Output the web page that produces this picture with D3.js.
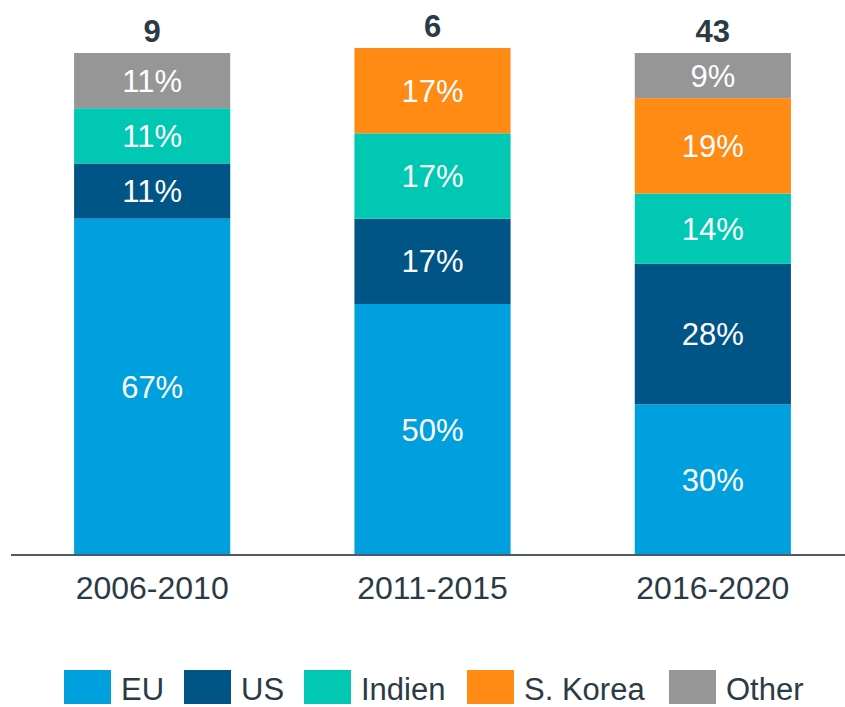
<!DOCTYPE html>
<head>
<meta charset="utf-8">
<script src="https://d3js.org/d3.v7.min.js"></script>
<style>
body { margin:0; background:#fff; }
text { font-family: "Liberation Sans", Arial, sans-serif; }
</style>
</head>
<body>
<script>

var periods = ["2006-2010", "2011-2015", "2016-2020"];
var totals = [9, 6, 43];
var series = ["EU", "US", "Indien", "S. Korea", "Other"];
var eu = [67, 50, 30];
var us = [11, 17, 28];
var indien = [11, 17, 14];
var korea = [0, 17, 19];
var other = [11, 0, 9];
var colors = ["#00a0df", "#005587", "#00c8b3", "#ff8a14", "#969696"];

var width = 845,
  height = 707;

var rows = periods.map(function(p, i) {
  return { period: p, "EU": eu[i], "US": us[i], "Indien": indien[i], "S. Korea": korea[i], "Other": other[i] };
});

var stacked = d3.stack().keys(series)(rows);

var svg = d3.select("body").append("svg")
    .attr("width", width)
    .attr("height", height);

var x = d3.scaleBand()
    .domain(periods)
    .range([12, 853])
    .paddingInner(0.443)
    .paddingOuter(0.2215);

var y = d3.scaleLinear()
    .domain([0, 100])
    .range([555, 53]);

var color = d3.scaleOrdinal()
    .domain(series)
    .range(colors);

var layer = svg.append("g").selectAll("g")
  .data(stacked)
  .enter().append("g")
    .attr("fill", function(d) { return color(d.key); });

layer.selectAll("rect")
  .data(function(d) { return d; })
  .enter().append("rect")
    .attr("x", function(d) { return x(d.data.period); })
    .attr("width", x.bandwidth())
    .attr("y", function(d) { return y(d[1]); })
    .attr("height", function(d) { return y(d[0]) - y(d[1]); });

// percent labels
layer.selectAll("text")
  .data(function(d) { return d.filter(function(s) { return s[1] - s[0] > 0; }); })
  .enter().append("text")
    .attr("x", function(d) { return x(d.data.period) + x.bandwidth() / 2; })
    .attr("y", function(d) { return (y(d[0]) + y(d[1])) / 2; })
    .attr("dy", "0.36em")
    .attr("text-anchor", "middle")
    .attr("fill", "#fff")
    .style("font-size", "31px")
    .text(function(d) { return (d[1] - d[0]) + "%"; });

// totals on top
var topLayer = stacked[stacked.length - 1];
svg.append("g").selectAll("text")
  .data(periods)
  .enter().append("text")
    .attr("x", function(d) { return x(d) + x.bandwidth() / 2; })
    .attr("y", function(d, i) { return y(topLayer[i][1]) - 11; })
    .attr("text-anchor", "middle")
    .attr("fill", "#2b3a44")
    .style("font-size", "31px")
    .style("font-weight", "bold")
    .text(function(d, i) { return totals[i]; });

// baseline axis
var axis = svg.append("g")
    .attr("transform", "translate(0," + y(0) + ")")
    .call(d3.axisBottom(x).tickSize(0).tickPadding(21));
axis.select(".domain")
    .attr("d", "M11,0H845")
    .attr("stroke", "#4d5a63")
    .attr("stroke-width", 2);
axis.selectAll("text")
    .style("font-size", "32px")
    .style("font-family", "'Liberation Sans', Arial, sans-serif")
    .attr("fill", "#2b3a44");

// legend
var legendX = [64, 184, 304, 467, 669];
var legend = svg.append("g").selectAll("g")
  .data(series)
  .enter().append("g")
    .attr("transform", function(d, i) { return "translate(" + legendX[i] + ",670)"; });

legend.append("rect")
    .attr("width", 47)
    .attr("height", 34)
    .attr("fill", function(d) { return color(d); });

legend.append("text")
    .attr("x", 57)
    .attr("y", 30)
    .attr("fill", "#2b3a44")
    .style("font-size", "31px")
    .text(function(d) { return d; });

</script>
</body>
